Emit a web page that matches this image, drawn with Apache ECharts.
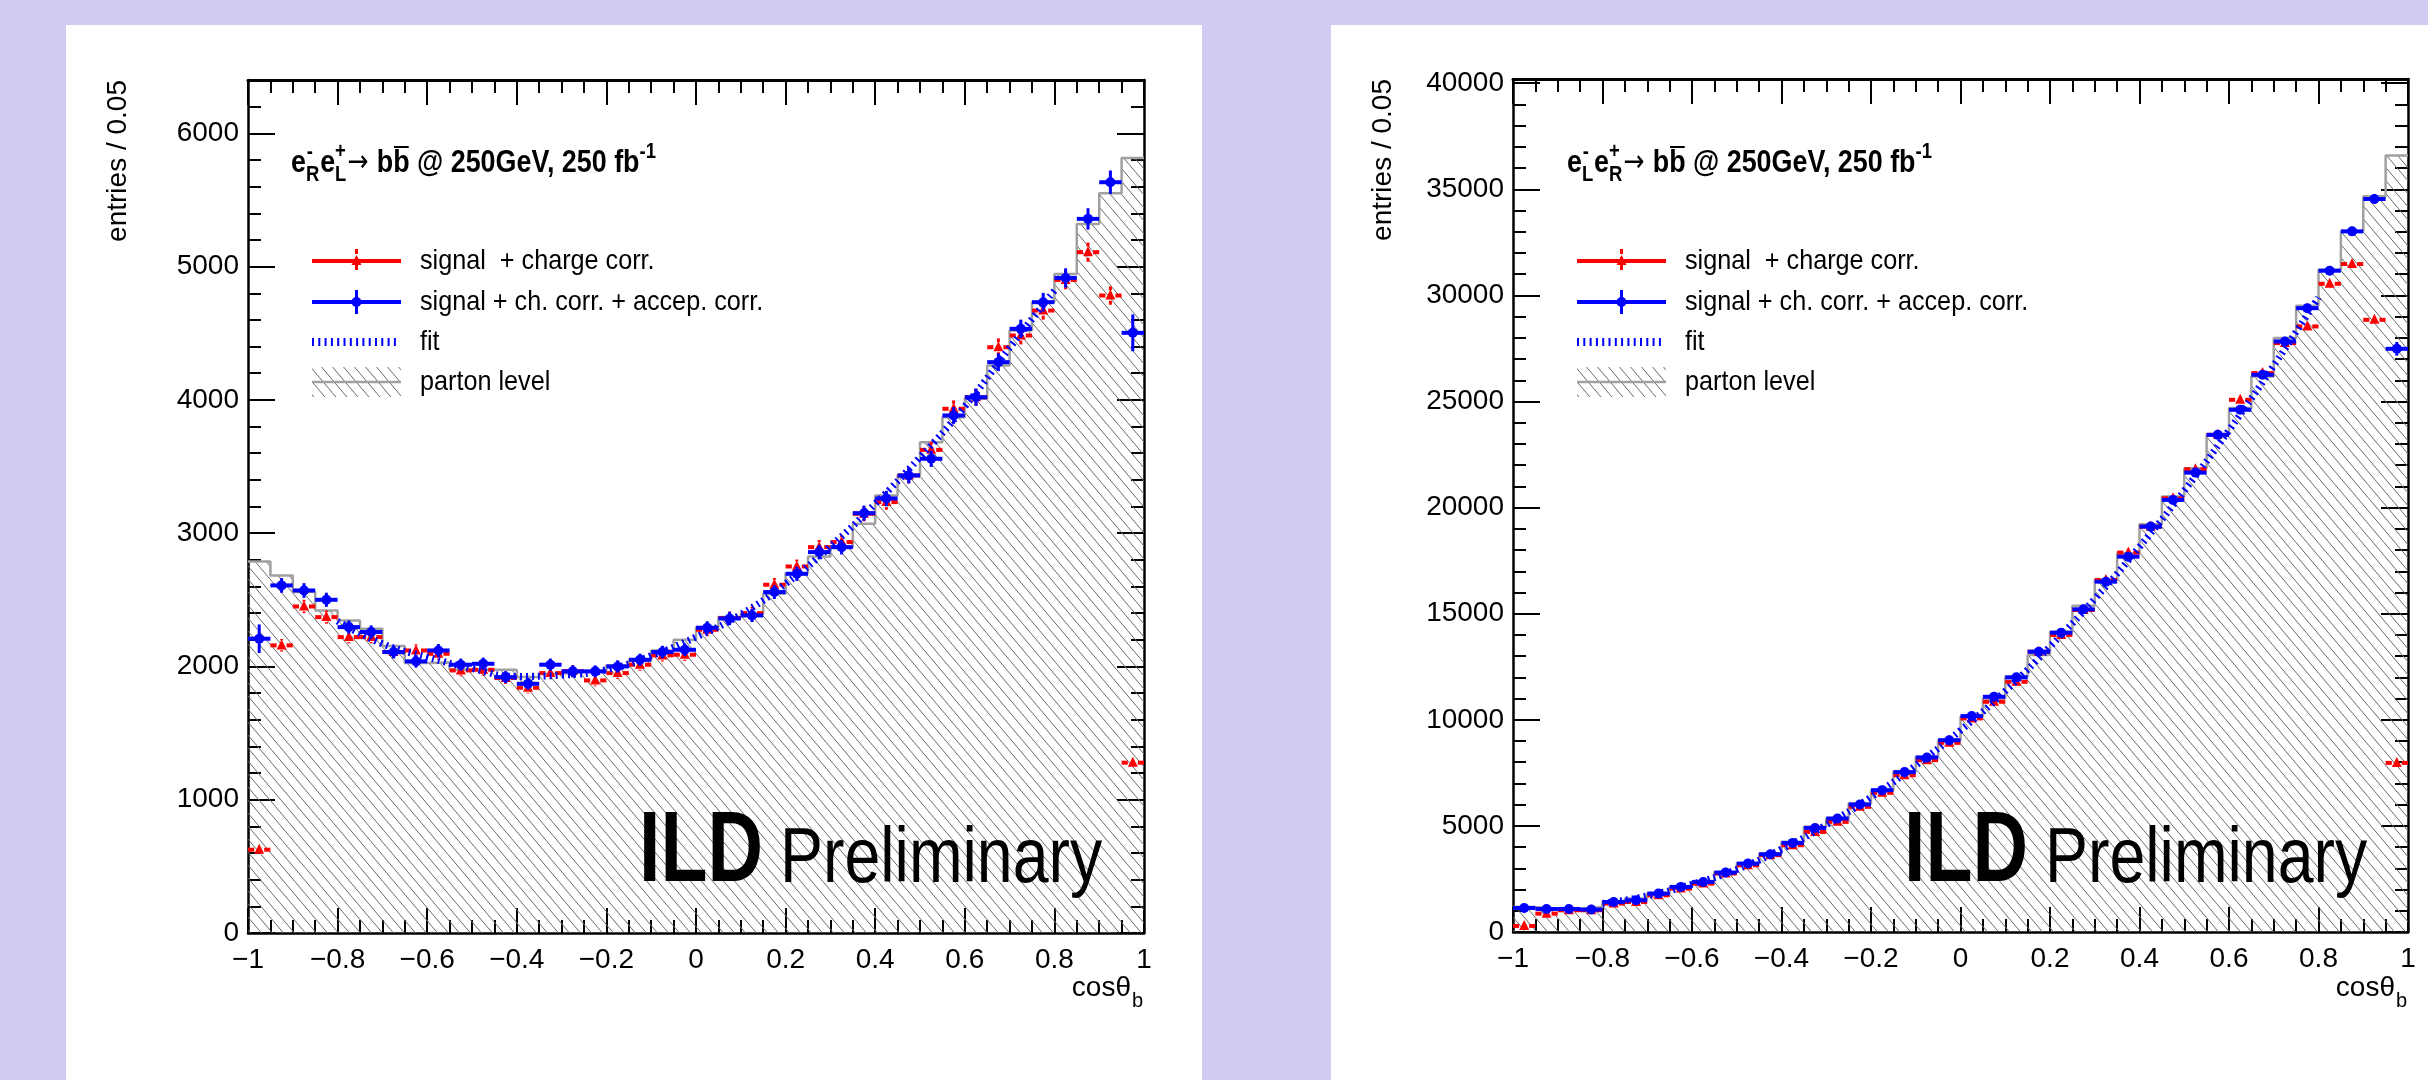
<!DOCTYPE html>
<html>
<head>
<meta charset="utf-8">
<script src="https://cdn.jsdelivr.net/npm/echarts@6/dist/echarts.min.js"></script>
<style>
  html, body { margin: 0; padding: 0; background: #d0cbf3; }
  #chart { width: 2428px; height: 1080px; }
</style>
</head>
<body>
<div id="chart"></div>
<script>
// ---------------- DATA ----------------
const BIN_WIDTH = 0.05;
const X_MIN = -1;
const N_BINS = 40;

// Left panel: e-R e+L -> b bbar
const partonL = [2788,2683,2558,2420,2345,2283,2153,2025,2030,1975,1975,1975,1920,1945,1960,1970,2008,2045,2120,2200,
                 2295,2370,2395,2545,2700,2825,2895,3070,3283,3433,3683,3870,4008,4258,4520,4735,4945,5320,5550,5815];
const accepL  = [2208,2608,2570,2500,2295,2258,2108,2038,2120,2013,2020,1920,1870,2013,1963,1963,2000,2050,2108,2125,
                 2290,2360,2383,2558,2695,2858,2895,3150,3260,3433,3558,3883,4020,4283,4533,4733,4915,5358,5633,4503];
const accepErrL = [107,55,55,53,50,50,48,47,48,46,46,45,44,46,45,45,46,46,47,47,
                   49,50,50,52,53,55,55,57,58,60,61,63,65,67,69,70,72,80,88,138];
const chargeL = [625,2158,2450,2370,2220,2220,2108,2120,2095,1970,1975,1913,1840,1950,1965,1895,1950,2013,2083,2088,
                 2275,2363,2400,2613,2750,2895,2933,3145,3233,3433,3625,3933,4020,4395,4483,4670,4900,5108,4783,1278];
const chargeErrL = [30,47,50,49,47,47,46,46,46,44,44,44,43,44,44,44,44,45,46,46,
                    48,49,49,51,52,54,54,56,57,59,60,63,63,66,67,68,70,72,69,36];
const fitX = [-0.8,-0.7,-0.6,-0.5,-0.4,-0.3,-0.2,-0.1,0,0.1,0.2,0.3,0.4,0.5,0.6,0.7,0.8];
const fitL = [2340,2170,2070,1985,1925,1935,1975,2080,2220,2390,2620,2900,3220,3570,3950,4390,4820];

// Right panel: e-L e+R -> b bbar
const partonR = [1179,1100,1100,1180,1415,1575,1810,2125,2360,2830,3225,3700,4245,4955,5350,6055,6685,7550,8255,9040,
                 10140,11010,12030,13050,14150,15380,16600,17850,19215,20520,21860,23430,24690,26180,27990,29510,31210,33020,34670,36590];
const accepR  = [1133,1085,1085,1057,1415,1495,1810,2125,2360,2800,3225,3665,4200,4905,5350,6010,6685,7535,8225,9040,
                 10175,11085,12000,13210,14105,15205,16510,17690,19105,20365,21650,23430,24610,26260,27830,29400,31165,33020,34545,27485];
const accepErrR = [60,40,40,40,45,46,51,55,58,64,68,73,78,84,88,93,98,104,109,114,
                   121,126,131,138,143,148,154,160,166,171,177,184,188,195,200,206,212,218,223,320];
const chargeR = [285,865,1025,1025,1340,1415,1730,2045,2280,2755,3145,3620,4090,4715,5190,5900,6560,7390,8100,8915,
                 10065,10850,11790,13210,14000,15175,16590,17880,19105,20440,21810,23430,25080,26340,27755,28540,30550,31480,28850,7970];
const chargeErrR = [17,29,32,32,37,38,42,45,48,52,56,60,64,69,72,77,81,86,90,94,
                    100,104,109,115,118,123,129,134,138,143,148,153,158,162,167,169,175,177,170,89];
const fitR = [1340,1700,2250,2950,3900,5050,6350,7850,9500,11350,13450,15700,18150,20800,23650,26700,29900];

const legendTexts = ['signal  + charge corr.', 'signal + ch. corr. + accep. corr.', 'fit', 'parton level'];
const yTitle = 'entries / 0.05';

// ---------------- HELPERS ----------------
const FONT = '"Liberation Sans", Arial, Helvetica, sans-serif';
const RED = '#ff0000', BLUE = '#0000ff', GREY = '#a0a0a0';

function makeHatch() {
  const w = 11, h = 13;
  const c = document.createElement('canvas');
  c.width = w; c.height = h;
  const g = c.getContext('2d');
  g.strokeStyle = '#6a6a6a';
  g.lineWidth = 1;
  for (const dx of [-w, 0, w]) {
    g.beginPath();
    g.moveTo(dx - 2, -2 * h / w);
    g.lineTo(dx + w + 2, h + 2 * h / w);
    g.stroke();
  }
  return c;
}
const hatch = makeHatch();
const hatchFill = { image: hatch, repeat: 'repeat' };

const edges = [];
for (let i = 0; i <= N_BINS; i++) edges.push(+(X_MIN + i * BIN_WIDTH).toFixed(3));
const centers = [];
for (let i = 0; i < N_BINS; i++) centers.push(+(X_MIN + (i + 0.5) * BIN_WIDTH).toFixed(4));

function renderBlue(params, api) {
  const x = api.value(0), v = api.value(1), e = api.value(2);
  const c = api.coord([x, v]);
  const half = api.size([BIN_WIDTH, 0])[0] / 2;
  const yt = api.coord([x, v + e])[1], yb = api.coord([x, v - e])[1];
  return { type: 'group', children: [
    { type: 'line', shape: { x1: c[0] - half, y1: c[1], x2: c[0] + half, y2: c[1] }, style: { stroke: BLUE, lineWidth: 4 } },
    { type: 'line', shape: { x1: c[0], y1: yt, x2: c[0], y2: yb }, style: { stroke: BLUE, lineWidth: 3 } },
    { type: 'circle', shape: { cx: c[0], cy: c[1], r: 5 }, style: { fill: BLUE } }
  ]};
}
function renderRed(params, api) {
  const x = api.value(0), v = api.value(1), e = api.value(2);
  const c = api.coord([x, v]);
  const half = api.size([BIN_WIDTH, 0])[0] / 2;
  const yt = api.coord([x, v + e])[1], yb = api.coord([x, v - e])[1];
  const m = 5;
  const H = { stroke: RED, lineWidth: 4, lineDash: [7, 3] };
  const V = { stroke: RED, lineWidth: 3, lineDash: [4, 3] };
  const kids = [
    { type: 'line', shape: { x1: c[0] - half, y1: c[1], x2: c[0] - m, y2: c[1] }, style: H },
    { type: 'line', shape: { x1: c[0] + half, y1: c[1], x2: c[0] + m, y2: c[1] }, style: H },
  ];
  if (yt < c[1] - m) kids.push({ type: 'line', shape: { x1: c[0], y1: yt, x2: c[0], y2: c[1] - m }, style: V });
  if (yb > c[1] + m) kids.push({ type: 'line', shape: { x1: c[0], y1: yb, x2: c[0], y2: c[1] + m }, style: V });
  kids.push({ type: 'polygon', shape: { points: [[c[0], c[1] - 6], [c[0] - 5, c[1] + 4], [c[0] + 5, c[1] + 4]] }, style: { fill: RED } });
  return { type: 'group', children: kids };
}

const measureCtx = document.createElement('canvas').getContext('2d');
function textW(t, f) { measureCtx.font = f; return measureCtx.measureText(t).width; }

function buildTitle(x0, yb, s1, s2) {
  const FM = 'bold 32px ' + FONT, FS = 'bold 22px ' + FONT, FA = '30px "DejaVu Sans", sans-serif';
  const kids = [];
  let x = 0;
  const put = (t, f, fs, dx, base) => kids.push({ type: 'text', x: dx, y: base - 0.3465 * fs,
    style: { text: t, font: f, fill: '#000', align: 'left', verticalAlign: 'middle' } });
  put('e', FM, 32, x, 0); x += textW('e', FM);
  put('-', FS, 22, x + 1, -14); put(s1, FS, 22, x, 9); x += Math.max(textW('-', FS), textW(s1, FS)) + 1;
  put('e', FM, 32, x, 0); x += textW('e', FM);
  put('+', FS, 22, x, -14); put(s2, FS, 22, x, 9); x += Math.max(textW('+', FS), textW(s2, FS)) + 1;
  put('\u2192', FA, 30, x, 0); x += textW('\u2192', FA) + 10;
  const bw = textW('b', FM);
  put('b', FM, 32, x, 0); x += bw;
  put('b', FM, 32, x, 0);
  kids.push({ type: 'line', shape: { x1: x + 1, y1: -27, x2: x + bw - 1, y2: -27 }, style: { stroke: '#000', lineWidth: 2 } });
  x += bw;
  const rest = ' @ 250GeV, 250 fb';
  put(rest, FM, 32, x, 0); x += textW(rest, FM);
  put('-1', FS, 22, x, -14);
  return { type: 'group', x: x0, y: yb, scaleX: 0.84, children: kids, z: 10 };
}

function buildLegend(PL, lg) {
  const L0 = PL + lg.l0, L1 = PL + lg.l1, LC = (L0 + L1) / 2, TX = PL + lg.tx;
  const rows = [261, 302, 342, 382];
  const els = [];
  // red
  els.push({ type: 'line', shape: { x1: L0, y1: rows[0], x2: L1, y2: rows[0] }, style: { stroke: RED, lineWidth: 4 }, z: 10 });
  els.push({ type: 'line', shape: { x1: LC, y1: rows[0] - 12, x2: LC, y2: rows[0] + 12 }, style: { stroke: RED, lineWidth: 3, lineDash: [5, 3] }, z: 10 });
  els.push({ type: 'polygon', shape: { points: [[LC, rows[0] - 6], [LC - 5, rows[0] + 4], [LC + 5, rows[0] + 4]] }, style: { fill: RED }, z: 11 });
  // blue
  els.push({ type: 'line', shape: { x1: L0, y1: rows[1], x2: L1, y2: rows[1] }, style: { stroke: BLUE, lineWidth: 4 }, z: 10 });
  els.push({ type: 'line', shape: { x1: LC, y1: rows[1] - 12, x2: LC, y2: rows[1] + 12 }, style: { stroke: BLUE, lineWidth: 3 }, z: 10 });
  els.push({ type: 'circle', shape: { cx: LC, cy: rows[1], r: 5 }, style: { fill: BLUE }, z: 11 });
  // fit
  els.push({ type: 'line', shape: { x1: L0, y1: rows[2], x2: L1 - 2, y2: rows[2] }, style: { stroke: BLUE, lineWidth: 8, lineDash: [2, 4.3] }, z: 10 });
  // parton
  els.push({ type: 'rect', shape: { x: L0, y: rows[3] - 15, width: L1 - L0, height: 30 }, style: { fill: hatchFill }, z: 10 });
  els.push({ type: 'line', shape: { x1: L0, y1: rows[3], x2: L1, y2: rows[3] }, style: { stroke: GREY, lineWidth: 2.5 }, z: 11 });
  legendTexts.forEach((t, i) => {
    els.push({ type: 'text', x: TX, y: rows[i], scaleX: lg.sx, z: 10,
      style: { text: t, font: '28px ' + FONT, fill: '#000', align: 'left', verticalAlign: 'middle' } });
  });
  return els;
}

// ---------------- PANELS ----------------
const panels = [
  { PL: 248, PT: 80, PW: 896, PH: 853, ymax: 6400, yMajor: 1000, yMinor: 200,
    parton: partonL, accep: accepL, accepErr: accepErrL, charge: chargeL, chargeErr: chargeErrL, fit: fitL,
    s1: 'R', s2: 'L', titleDx: 43, legend: { l0: 64, l1: 153, tx: 172, sx: 0.9 },
    panel: { x: 66, y: 25, w: 1136, h: 1055 } },
  { PL: 1513, PT: 79, PW: 895, PH: 853, ymax: 40200, yMajor: 5000, yMinor: 1000,
    parton: partonR, accep: accepR, accepErr: accepErrR, charge: chargeR, chargeErr: chargeErrR, fit: fitR,
    s1: 'L', s2: 'R', titleDx: 54, legend: { l0: 64, l1: 153, tx: 172, sx: 0.9 },
    panel: { x: 1331, y: 25, w: 1097, h: 1055 } }
];

const grid = [], xAxis = [], yAxis = [], series = [], graphic = [];
const blackLine = w => ({ color: '#000', width: w });
const xFmt = v => { const r = Math.round(v * 10) / 10; return r < 0 ? '\u2212' + Math.abs(r) : String(r); };

panels.forEach((p, k) => {
  grid.push({ left: p.PL, top: p.PT, width: p.PW, height: p.PH, containLabel: false, outerBoundsMode: 'none' });
  const xBase = { gridIndex: k, type: 'value', min: -1, max: 1, interval: 0.2, splitLine: { show: false } };
  xAxis.push(Object.assign({}, xBase, {
    position: 'bottom',
    axisLine: { show: true, onZero: false, lineStyle: blackLine(2.5) },
    axisTick: { show: true, inside: true, length: 25, lineStyle: blackLine(2) },
    minorTick: { show: true, splitNumber: 4, length: 13, lineStyle: blackLine(2) },
    axisLabel: { show: true, margin: 13, color: '#000', fontSize: 28, fontFamily: FONT, formatter: xFmt }
  }));
  xAxis.push(Object.assign({}, xBase, {
    position: 'top',
    axisLine: { show: true, onZero: false, lineStyle: blackLine(3) },
    axisTick: { show: true, inside: true, length: 25, lineStyle: blackLine(2) },
    minorTick: { show: true, splitNumber: 4, length: 13, lineStyle: blackLine(2) },
    axisLabel: { show: false }
  }));
  const yBase = { gridIndex: k, type: 'value', min: 0, max: p.ymax, splitLine: { show: false } };
  yAxis.push(Object.assign({}, yBase, {
    position: 'left', interval: p.yMajor,
    axisLine: { show: true, onZero: false, lineStyle: blackLine(2.5) },
    axisTick: { show: true, inside: true, length: 27, lineStyle: blackLine(2) },
    axisLabel: { show: true, margin: 9, color: '#000', fontSize: 28, fontFamily: FONT, showMaxLabel: false,
                 formatter: v => String(v) }
  }));
  yAxis.push(Object.assign({}, yBase, {
    position: 'left', interval: p.yMinor,
    axisLine: { show: false, onZero: false },
    axisTick: { show: true, inside: true, length: 13, lineStyle: blackLine(2) },
    axisLabel: { show: false }
  }));
  yAxis.push(Object.assign({}, yBase, {
    position: 'right', interval: p.yMajor,
    axisLine: { show: true, onZero: false, lineStyle: blackLine(2.5) },
    axisTick: { show: true, inside: true, length: 27, lineStyle: blackLine(2) },
    axisLabel: { show: false }
  }));
  yAxis.push(Object.assign({}, yBase, {
    position: 'right', interval: p.yMinor,
    axisLine: { show: false, onZero: false },
    axisTick: { show: true, inside: true, length: 13, lineStyle: blackLine(2) },
    axisLabel: { show: false }
  }));

  const xi = 2 * k, yi = 4 * k;
  const histData = edges.map((x, i) => [x, p.parton[Math.min(i, N_BINS - 1)]]);
  series.push({
    type: 'line', name: 'parton level', xAxisIndex: xi, yAxisIndex: yi, data: histData,
    step: 'end', symbol: 'none', silent: true, z: 1,
    lineStyle: { color: GREY, width: 2.5 },
    areaStyle: { color: hatchFill, opacity: 1, origin: 'start' }
  });
  series.push({
    type: 'custom', name: 'signal + charge corr.', xAxisIndex: xi, yAxisIndex: yi, silent: true, z: 3,
    coordinateSystem: 'cartesian2d', encode: { x: 0, y: 1 }, clip: false,
    data: centers.map((c, i) => [c, p.charge[i], p.chargeErr[i]]), renderItem: renderRed
  });
  series.push({
    type: 'custom', name: 'signal + ch. corr. + accep. corr.', xAxisIndex: xi, yAxisIndex: yi, silent: true, z: 4,
    coordinateSystem: 'cartesian2d', encode: { x: 0, y: 1 }, clip: false,
    data: centers.map((c, i) => [c, p.accep[i], p.accepErr[i]]), renderItem: renderBlue
  });
  series.push({
    type: 'line', name: 'fit', xAxisIndex: xi, yAxisIndex: yi, silent: true, z: 5,
    data: fitX.map((x, i) => [x, p.fit[i]]), smooth: 0.5, showSymbol: false, symbol: 'none',
    lineStyle: { color: BLUE, width: 7, type: [2, 4] }
  });

  // panel background
  graphic.push({ type: 'rect', z: -10, silent: true,
    shape: { x: p.panel.x, y: p.panel.y, width: p.panel.w, height: p.panel.h }, style: { fill: '#ffffff' } });
  // y title
  graphic.push({ type: 'text', x: p.PL - 130, y: p.PT, rotation: Math.PI / 2, z: 10,
    style: { text: yTitle, font: '28px ' + FONT, fill: '#000', align: 'right', verticalAlign: 'middle' } });
  // x title
  const PR = p.PL + p.PW;
  graphic.push({ type: 'text', x: PR - 13, y: 998 - 0.3465 * 28, z: 10,
    style: { text: 'cos\u03B8', font: '28px ' + FONT, fill: '#000', align: 'right', verticalAlign: 'middle' } });
  graphic.push({ type: 'text', x: PR - 12, y: 1008 - 0.3465 * 20, z: 10,
    style: { text: 'b', font: '20px ' + FONT, fill: '#000', align: 'left', verticalAlign: 'middle' } });
  // process title
  graphic.push(buildTitle(p.PL + p.titleDx, 174, p.s1, p.s2));
  // legend
  buildLegend(p.PL, p.legend).forEach(e => graphic.push(e));
  // ILD Preliminary
  graphic.push({ type: 'text', x: p.PL + 391, y: 888 - 0.3465 * 100, scaleX: 0.77, z: 10,
    style: { text: 'ILD', font: 'bold 100px ' + FONT, fill: '#000', align: 'left', verticalAlign: 'middle' } });
  graphic.push({ type: 'text', x: p.PL + 532, y: 888 - 0.3465 * 78, scaleX: 0.826, z: 10,
    style: { text: 'Preliminary', font: '78px ' + FONT, fill: '#000', align: 'left', verticalAlign: 'middle' } });
});

const chart = echarts.init(document.getElementById('chart'), null, { renderer: 'canvas', width: 2428, height: 1080 });
chart.setOption({
  backgroundColor: '#d0cbf3',
  animation: false,
  grid, xAxis, yAxis, series,
  graphic: { elements: graphic }
});
</script>
</body>
</html>
